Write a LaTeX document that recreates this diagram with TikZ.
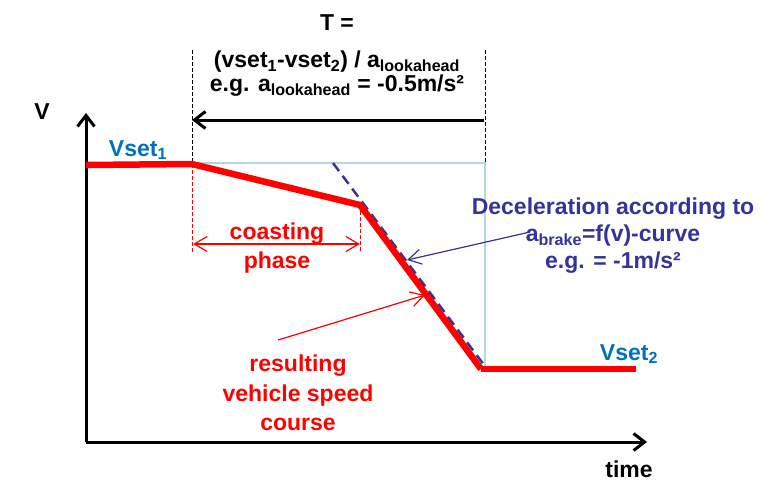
\documentclass[tikz,border=0pt]{standalone}
\usepackage{fontspec}
\setmainfont{Liberation Sans}
\usetikzlibrary{arrows.meta}

\definecolor{speedred}{RGB}{255,0,0}
\definecolor{setblue}{RGB}{0,112,192}
\definecolor{decnavy}{RGB}{51,51,153}
\definecolor{boxblue}{RGB}{176,216,224}

\begin{document}
\begin{tikzpicture}[x=1pt,y=-1pt,font=\bfseries\fontsize{23}{27}\selectfont]
      \tikzstyle{axis line}=[line width=3pt,-{Straight Barb[length=11pt,width=17pt]}]
      \tikzstyle{speed line}=[speedred,line width=6.5pt,line join=round]
      \tikzstyle{thin arrow}=[line width=1.2pt,-{Straight Barb[length=13pt,width=15pt]}]
      \tikzstyle{mark line}=[line width=0.9pt,dash pattern=on 3.5pt off 2.5pt]
      \useasboundingbox (0,0) rectangle (775,499);

      % Axes
      \coordinate (O) at (86,442);
      \coordinate (Y-end) at (86,113);
      \coordinate (X-end) at (647,442);
      \draw[axis line] (O) -- (Y-end);
      \draw[axis line] (O) -- (X-end);
      \node (v-label) at (42,112) {V};
      \node (t-label) at (629,469) {time};

      % Speed profile points
      \coordinate (P-0) at (86,165);
      \coordinate (P-1) at (192,164);
      \coordinate (P-2) at (360,205);
      \coordinate (P-3) at (481,369);
      \coordinate (P-4) at (636,369);

      % Lookahead box
      \coordinate (B-0) at (107,163);
      \coordinate (B-1) at (485,163);
      \coordinate (B-2) at (485,369);
      \draw[boxblue,line width=2.5pt] (B-0) -- (B-1) -- (B-2);

      % Marker lines
      \coordinate (T-1) at (192,50);
      \coordinate (T-2) at (485,50);
      \coordinate (C-1) at (192,252);
      \coordinate (C-2) at (360,252);
      \draw[mark line] (T-1) -- (P-1);
      \draw[mark line] (T-2) -- (B-1);
      \draw[mark line,speedred] (P-1) -- (C-1);
      \draw[mark line,speedred] (P-2) -- (C-2);

      % Braking curve
      \coordinate (D-a) at (333,163);
      \coordinate (D-b) at (484,365);
      \draw[decnavy,line width=2.5pt,dash pattern=on 10pt off 6pt] (D-a) -- (D-b);

      % Resulting speed course
      \draw[speed line] (P-0) -- (P-1) -- (P-2) -- (P-3);
      \draw[speed line] (P-3) -- (P-4);
      \node[setblue] (vset1) at (138,150) {Vset\textsubscript{1}};
      \node[setblue] (vset2) at (629,354) {Vset\textsubscript{2}};

      % Lookahead time
      \node (T-label) at (337,23) {T =};
      \node[align=center,font=\bfseries\fontsize{23}{24}\selectfont] (T-formula) at (337,74)
        {(vset\textsubscript{1}-vset\textsubscript{2}) / a\textsubscript{lookahead}\\
         e.g. a\textsubscript{lookahead} = -0.5m/s²};
      \coordinate (A-1) at (484,120);
      \coordinate (A-0) at (192,120);
      \draw[axis line] (A-1) -- (A-0);

      % Coasting phase
      \coordinate (K-1) at (193,244);
      \coordinate (K-2) at (360,244);
      \draw[thin arrow,speedred,{Straight Barb[length=13pt,width=15pt]}-{Straight Barb[length=13pt,width=15pt]}] (K-1) -- (K-2);
      \node[speedred,align=center,font=\bfseries\fontsize{23}{29}\selectfont] (coast) at (277,248) {coasting\\phase};

      % Deceleration label
      \node[decnavy,align=center] (decel) at (613,236)
        {Deceleration according to\\a\textsubscript{brake}=f(v)-curve\\e.g. = -1m/s²};
      \coordinate (D-0) at (530,232);
      \coordinate (D-1) at (407,260);
      \draw[thin arrow,decnavy] (D-0) -- (D-1);

      % Resulting course label
      \node[speedred,align=center,font=\bfseries\fontsize{23}{29.5}\selectfont] (result) at (298,393)
        {resulting\\vehicle speed\\course};
      \coordinate (R-0) at (278,340);
      \coordinate (R-1) at (425,295);
      \draw[thin arrow,speedred] (R-0) -- (R-1);
\end{tikzpicture}
\end{document}
